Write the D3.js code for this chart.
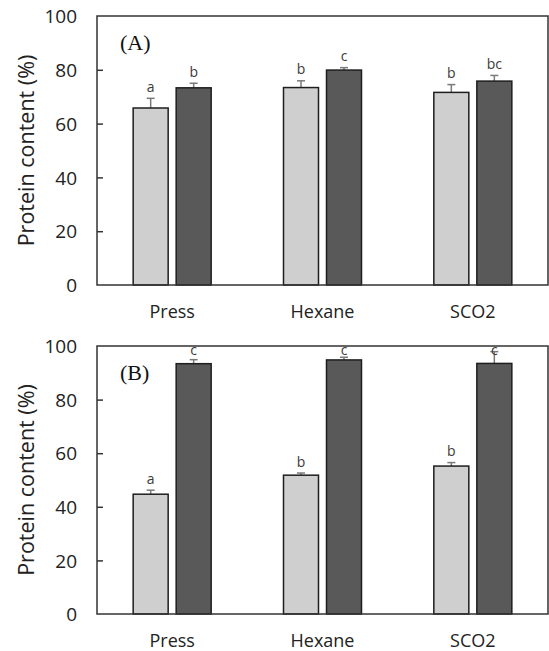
<!DOCTYPE html>
<html><head><meta charset="utf-8">
<script src="https://cdn.jsdelivr.net/npm/d3@7"></script>
<style>body{margin:0;background:#fff}svg{display:block}</style>
</head><body>
<svg id="chart" width="549" height="651"></svg>
<script>
const categories = ["Press", "Hexane", "SCO2"];
const series = ["light", "dark"];
const yTicks = [0, 20, 40, 60, 80, 100];

// Panel A
const aLight = [65.8, 73.4, 71.6];
const aLightErr = [3.6, 2.5, 2.9];
const aDark = [73.3, 79.9, 75.8];
const aDarkErr = [1.7, 0.9, 2.1];
const aLightLetters = ["a", "b", "b"];
const aDarkLetters = ["b", "c", "bc"];

// Panel B
const bLight = [44.7, 51.8, 55.2];
const bLightErr = [1.5, 0.8, 1.3];
const bDark = [93.4, 94.8, 93.5];
const bDarkErr = [1.5, 1.0, 4.4];
const bLightLetters = ["a", "b", "b"];
const bDarkLetters = ["c", "c", "c"];

const colors = {light: "#d0cfd0", dark: "#595959"};
const svg = d3.select("#chart");
const FONT = "'Open Sans', 'Noto Sans', sans-serif";

function panel(opts) {
  const {top, bottom, left, right, tag, light, lightErr, dark, darkErr, lightLetters, darkLetters} = opts;
  const g = svg.append("g");
  const x = d3.scaleBand().domain(categories).range([left, right]);
  const x1 = d3.scaleBand().domain(series).range([-39, 39]).paddingInner(0.186);
  const y = d3.scaleLinear().domain([0, 100]).range([bottom, top]);

  const rows = [];
  categories.forEach((c, i) => {
    rows.push({c, s: "light", v: light[i], e: lightErr[i], t: lightLetters[i]});
    rows.push({c, s: "dark", v: dark[i], e: darkErr[i], t: darkLetters[i]});
  });
  const cx = d => x(d.c) + x.bandwidth() / 2 + x1(d.s);

  // error bars (up only)
  g.selectAll("line.err").data(rows).join("line")
    .attr("x1", d => cx(d) + x1.bandwidth() / 2).attr("x2", d => cx(d) + x1.bandwidth() / 2)
    .attr("y1", d => y(d.v)).attr("y2", d => y(d.v + d.e))
    .attr("stroke", "#7a7a7a").attr("stroke-width", 1.5);
  g.selectAll("line.cap").data(rows).join("line")
    .attr("x1", d => cx(d) + x1.bandwidth() / 2 - 4).attr("x2", d => cx(d) + x1.bandwidth() / 2 + 4)
    .attr("y1", d => y(d.v + d.e)).attr("y2", d => y(d.v + d.e))
    .attr("stroke", "#7a7a7a").attr("stroke-width", 1.5);

  // bars
  g.selectAll("rect.bar").data(rows).join("rect")
    .attr("x", d => cx(d)).attr("width", x1.bandwidth())
    .attr("y", d => y(d.v)).attr("height", d => y(0) - y(d.v))
    .attr("fill", d => colors[d.s]).attr("stroke", "#1e1e1e").attr("stroke-width", 1.5);

  // significance letters
  g.selectAll("text.let").data(rows).join("text")
    .attr("x", d => cx(d) + x1.bandwidth() / 2)
    .attr("y", d => Math.max(y(d.v + d.e) - 6.5, y(96.5)))
    .attr("text-anchor", "middle").attr("font-family", FONT).attr("font-size", 14)
    .attr("fill", "#3a3a3a").text(d => d.t);

  // y axis ticks (inside) and labels
  const yAxis = d3.axisRight(y).tickValues(yTicks).tickSize(6).tickFormat(d3.format("d"));
  const ya = g.append("g").attr("transform", `translate(${left},0)`).call(yAxis);
  ya.select(".domain").remove();
  ya.selectAll(".tick line").attr("stroke", "#333").attr("stroke-width", 1.5)
    .filter(d => d === 0 || d === 100).remove();
  ya.selectAll(".tick text").attr("x", -20).attr("text-anchor", "end").attr("dy", "0.35em")
    .attr("font-family", FONT).attr("font-size", 19).attr("fill", "#222");

  // frame
  g.append("rect").attr("x", left).attr("y", top).attr("width", right - left).attr("height", bottom - top)
    .attr("fill", "none").attr("stroke", "#333").attr("stroke-width", 1.5);

  // x labels
  const xAxis = d3.axisBottom(x).tickSize(0);
  const xa = g.append("g").attr("transform", `translate(0,${bottom})`).call(xAxis);
  xa.select(".domain").remove();
  xa.selectAll(".tick text").attr("y", 33).attr("dy", 0)
    .attr("font-family", FONT).attr("font-size", 18).attr("fill", "#222");

  // y title
  g.append("text").attr("transform", `translate(34,${(top + bottom) / 2}) rotate(-90)`)
    .attr("text-anchor", "middle").attr("font-family", FONT).attr("font-size", 21.5)
    .attr("fill", "#222").text("Protein content (%)");

  // panel tag
  g.append("text").attr("x", left + 23).attr("y", top + 34)
    .attr("font-family", "'Liberation Serif', 'DejaVu Serif', serif").attr("font-size", 22)
    .attr("fill", "#111").text(tag);
}

panel({top: 16, bottom: 285, left: 97, right: 548, tag: "(A)",
  light: aLight, lightErr: aLightErr, dark: aDark, darkErr: aDarkErr,
  lightLetters: aLightLetters, darkLetters: aDarkLetters});
panel({top: 346, bottom: 614, left: 97, right: 548, tag: "(B)",
  light: bLight, lightErr: bLightErr, dark: bDark, darkErr: bDarkErr,
  lightLetters: bLightLetters, darkLetters: bDarkLetters});
</script>
</body></html>
